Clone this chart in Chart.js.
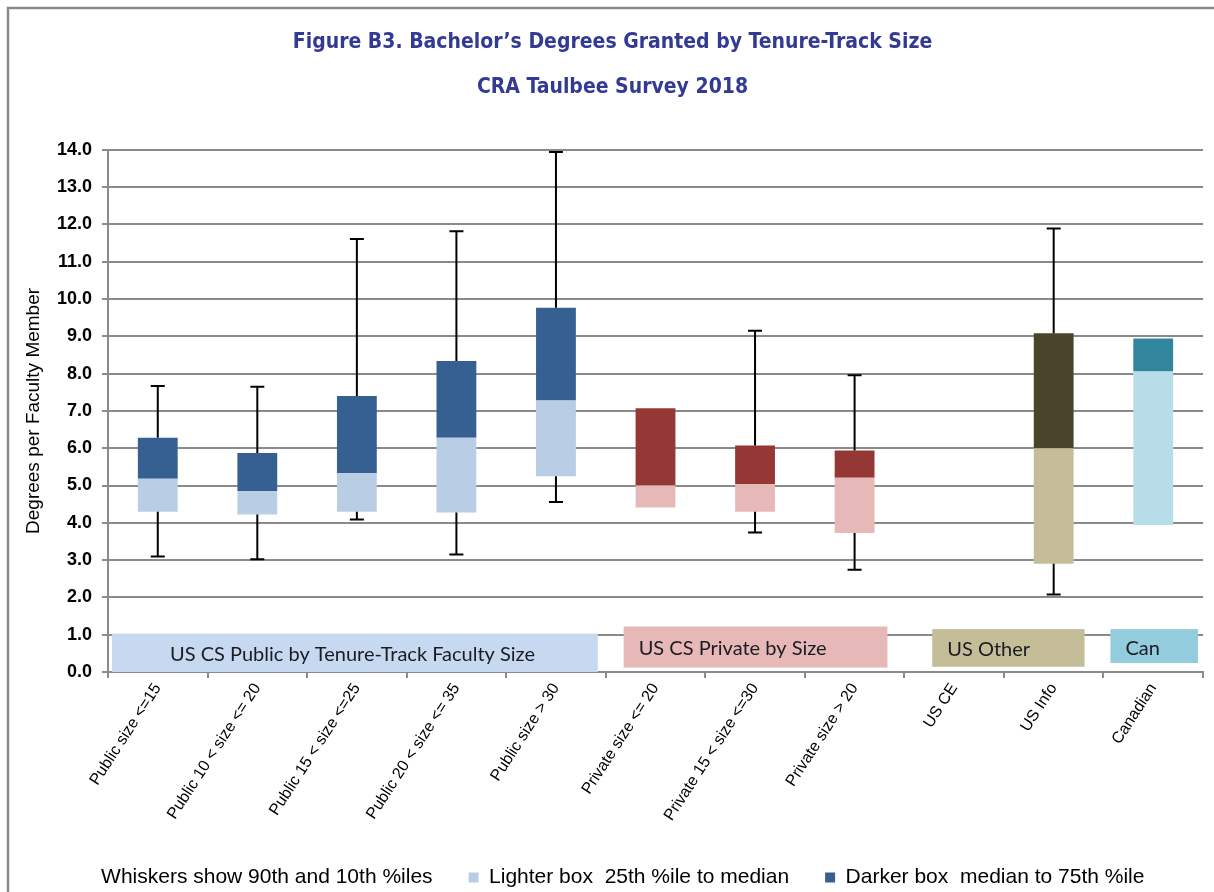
<!DOCTYPE html>
<html>
<head>
<meta charset="utf-8">
<script src="https://cdn.jsdelivr.net/npm/chart.js@4.4.1/dist/chart.umd.min.js"></script>
<style>
  body { margin: 0; background: #fff; }
  #wrap { width: 1214px; height: 892px; position: relative; }
</style>
</head>
<body>
<div id="wrap"><canvas id="boxChart"></canvas></div>
<script>
// kategorie
const categories = [
    "Public size <=15", "Public 10 < size <= 20", "Public 15 < size <=25",
    "Public 20 < size <= 35", "Public size > 30", "Private size <= 20",
    "Private 15 < size <=30", "Private size > 20", "US CE", "US Info", "Canadian"
];

// percentyle
const p10    = [3.10, 3.02, 4.09, 3.15, 4.56, null, 3.74, 2.74, null, 2.08, null];
const q1     = [4.30, 4.22, 4.30, 4.28, 5.25, 4.41, 4.30, 3.73, null, 2.90, 3.94];
const median = [5.18, 4.85, 5.33, 6.28, 7.28, 5.00, 5.04, 5.21, null, 6.00, 8.06];
const q3     = [6.28, 5.87, 7.40, 8.34, 9.77, 7.07, 6.07, 5.94, null, 9.08, 8.94];
const p90    = [7.67, 7.65, 11.61, 11.82, 13.94, null, 9.15, 7.96, null, 11.89, null];

// grupy (etykiety na dole wykresu)
const groupLabels = ["US CS Public by Tenure-Track Faculty Size", "US CS Private by Size", "US Other", "Can"];
const groupFrom   = [-0.46, 4.68, 7.78, 9.57];
const groupTo     = [4.42, 7.33, 9.31, 10.45];
const groupLow    = [0.0, 0.12, 0.14, 0.24];
const groupHigh   = [1.03, 1.22, 1.15, 1.15];

const groupOf = [0, 0, 0, 0, 0, 1, 1, 1, 2, 2, 3];
const lightColors = ["#b9cde5", "#e6b9b8", "#c4bd97", "#b7dee8"];
const darkColors  = ["#376092", "#953735", "#4a452a", "#31859c"];
const bandColors  = ["#c6d9f1", "#e6b9b8", "#c4bd97", "#93cddd"];

// prostokąty grup na osi
const groupBands = {
    id: "groupBands",
    beforeDatasetsDraw(chart) {
        const {ctx, scales: {x, y}} = chart;
        ctx.save();
        groupLabels.forEach((label, i) => {
            const x0 = x.getPixelForValue(groupFrom[i]);
            const x1 = x.getPixelForValue(groupTo[i]);
            const y0 = y.getPixelForValue(groupHigh[i]);
            const y1 = y.getPixelForValue(groupLow[i]);
            ctx.fillStyle = bandColors[i];
            ctx.fillRect(x0, y0, x1 - x0, y1 - y0);
            ctx.fillStyle = "#1b1b22";
            ctx.font = "20px Lato, 'Open Sans', sans-serif";
            ctx.textBaseline = "middle";
            ctx.textAlign = "left";
            ctx.fillText(label, x0 + (i === 0 ? 58 : 15), (y0 + y1) / 2 + 2);
        });
        ctx.restore();
    }
};

// wąsy 10 i 90 percentyla
const whiskers = {
    id: "whiskers",
    afterDatasetsDraw(chart) {
        const {ctx, scales: {x, y}} = chart;
        ctx.save();
        ctx.strokeStyle = "#000";
        ctx.lineWidth = 2;
        categories.forEach((c, i) => {
            if (p10[i] === null) return;
            const cx = x.getPixelForValue(i);
            // [koniec wąsa, brzeg pudełka]
            [[p90[i], q3[i]], [p10[i], q1[i]]].forEach(([tip, edge]) => {
                const yt = y.getPixelForValue(tip);
                ctx.beginPath();
                ctx.moveTo(cx, yt);
                ctx.lineTo(cx, y.getPixelForValue(edge));
                ctx.moveTo(cx - 7, yt);
                ctx.lineTo(cx + 7, yt);
                ctx.stroke();
            });
        });
        ctx.restore();
    }
};

// ramka obrazka
const frame = {
    id: "frame",
    beforeDraw(chart) {
        const ctx = chart.ctx;
        ctx.save();
        ctx.strokeStyle = "#8a8a8a";
        ctx.lineWidth = 2.5;
        ctx.beginPath();
        ctx.moveTo(8, 892);
        ctx.lineTo(8, 8);
        ctx.lineTo(1214, 8);
        ctx.stroke();
        ctx.restore();
    }
};

const lowerBox = categories.map((c, i) => q1[i] === null ? null : [q1[i], median[i]]);
const upperBox = categories.map((c, i) => q3[i] === null ? null : [median[i], q3[i]]);

new Chart(document.getElementById("boxChart"), {
    type: "bar",
    data: {
        labels: categories,
        datasets: [
            {
                label: "Lighter box  25th %ile to median",
                data: lowerBox,
                backgroundColor: groupOf.map(g => lightColors[g]),
                grouped: false,
                barPercentage: 0.4,
                categoryPercentage: 1
            },
            {
                label: "Darker box  median to 75th %ile",
                data: upperBox,
                backgroundColor: groupOf.map(g => darkColors[g]),
                grouped: false,
                barPercentage: 0.4,
                categoryPercentage: 1
            }
        ]
    },
    options: {
        responsive: true,
        maintainAspectRatio: false,
        animation: false,
        layout: {padding: {left: 22, right: 11, top: 0, bottom: -6}},
        plugins: {
            title: {
                display: true,
                text: ["Figure B3. Bachelor’s Degrees Granted by Tenure-Track Size", "CRA Taulbee Survey 2018"],
                color: "#333a94",
                font: {family: "'Liberation Sans Narrow', 'DejaVu Sans Condensed', sans-serif", size: 21, weight: "bold", lineHeight: 2.14},
                padding: {top: 20, bottom: 40}
            },
            legend: {
                position: "bottom",
                labels: {
                    color: "#000",
                    font: {family: "'Liberation Sans', Arial, sans-serif", size: 21},
                    boxWidth: 10,
                    boxHeight: 10,
                    padding: 36,
                    generateLabels() {
                        return [
                            {text: "Whiskers show 90th and 10th %iles", fillStyle: "rgba(0,0,0,0)", strokeStyle: "rgba(0,0,0,0)", lineWidth: 0},
                            {text: "Lighter box  25th %ile to median", fillStyle: lightColors[0], strokeStyle: lightColors[0], lineWidth: 0},
                            {text: "Darker box  median to 75th %ile", fillStyle: darkColors[0], strokeStyle: darkColors[0], lineWidth: 0}
                        ];
                    }
                },
                onClick: null
            },
            tooltip: {enabled: false}
        },
        scales: {
            x: {
                afterFit(scale) { scale.height = 159; },
                grid: {display: true, drawOnChartArea: false, drawTicks: true, tickLength: 6, color: "#8a8a8a", lineWidth: 2, offset: true},
                border: {color: "#8a8a8a", width: 2},
                ticks: {
                    color: "#000",
                    font: {family: "'Liberation Sans', Arial, sans-serif", size: 16},
                    minRotation: 57,
                    maxRotation: 57,
                    autoSkip: false,
                    padding: 2
                }
            },
            y: {
                min: 0,
                max: 14,
                afterFit(scale) { scale.width = 86; },
                grid: {color: "#8a8a8a", lineWidth: 2, tickLength: 6},
                border: {color: "#8a8a8a", width: 2},
                ticks: {
                    stepSize: 1,
                    color: "#000",
                    font: {family: "'Liberation Sans', Arial, sans-serif", size: 18, weight: "bold"},
                    padding: 10,
                    callback: v => v.toFixed(1)
                },
                title: {
                    display: true,
                    text: "Degrees per Faculty Member",
                    color: "#000",
                    font: {family: "'Liberation Sans', Arial, sans-serif", size: 19},
                    padding: {top: 0, bottom: 0}
                }
            }
        }
    },
    plugins: [frame, groupBands, whiskers]
});
</script>
</body>
</html>
